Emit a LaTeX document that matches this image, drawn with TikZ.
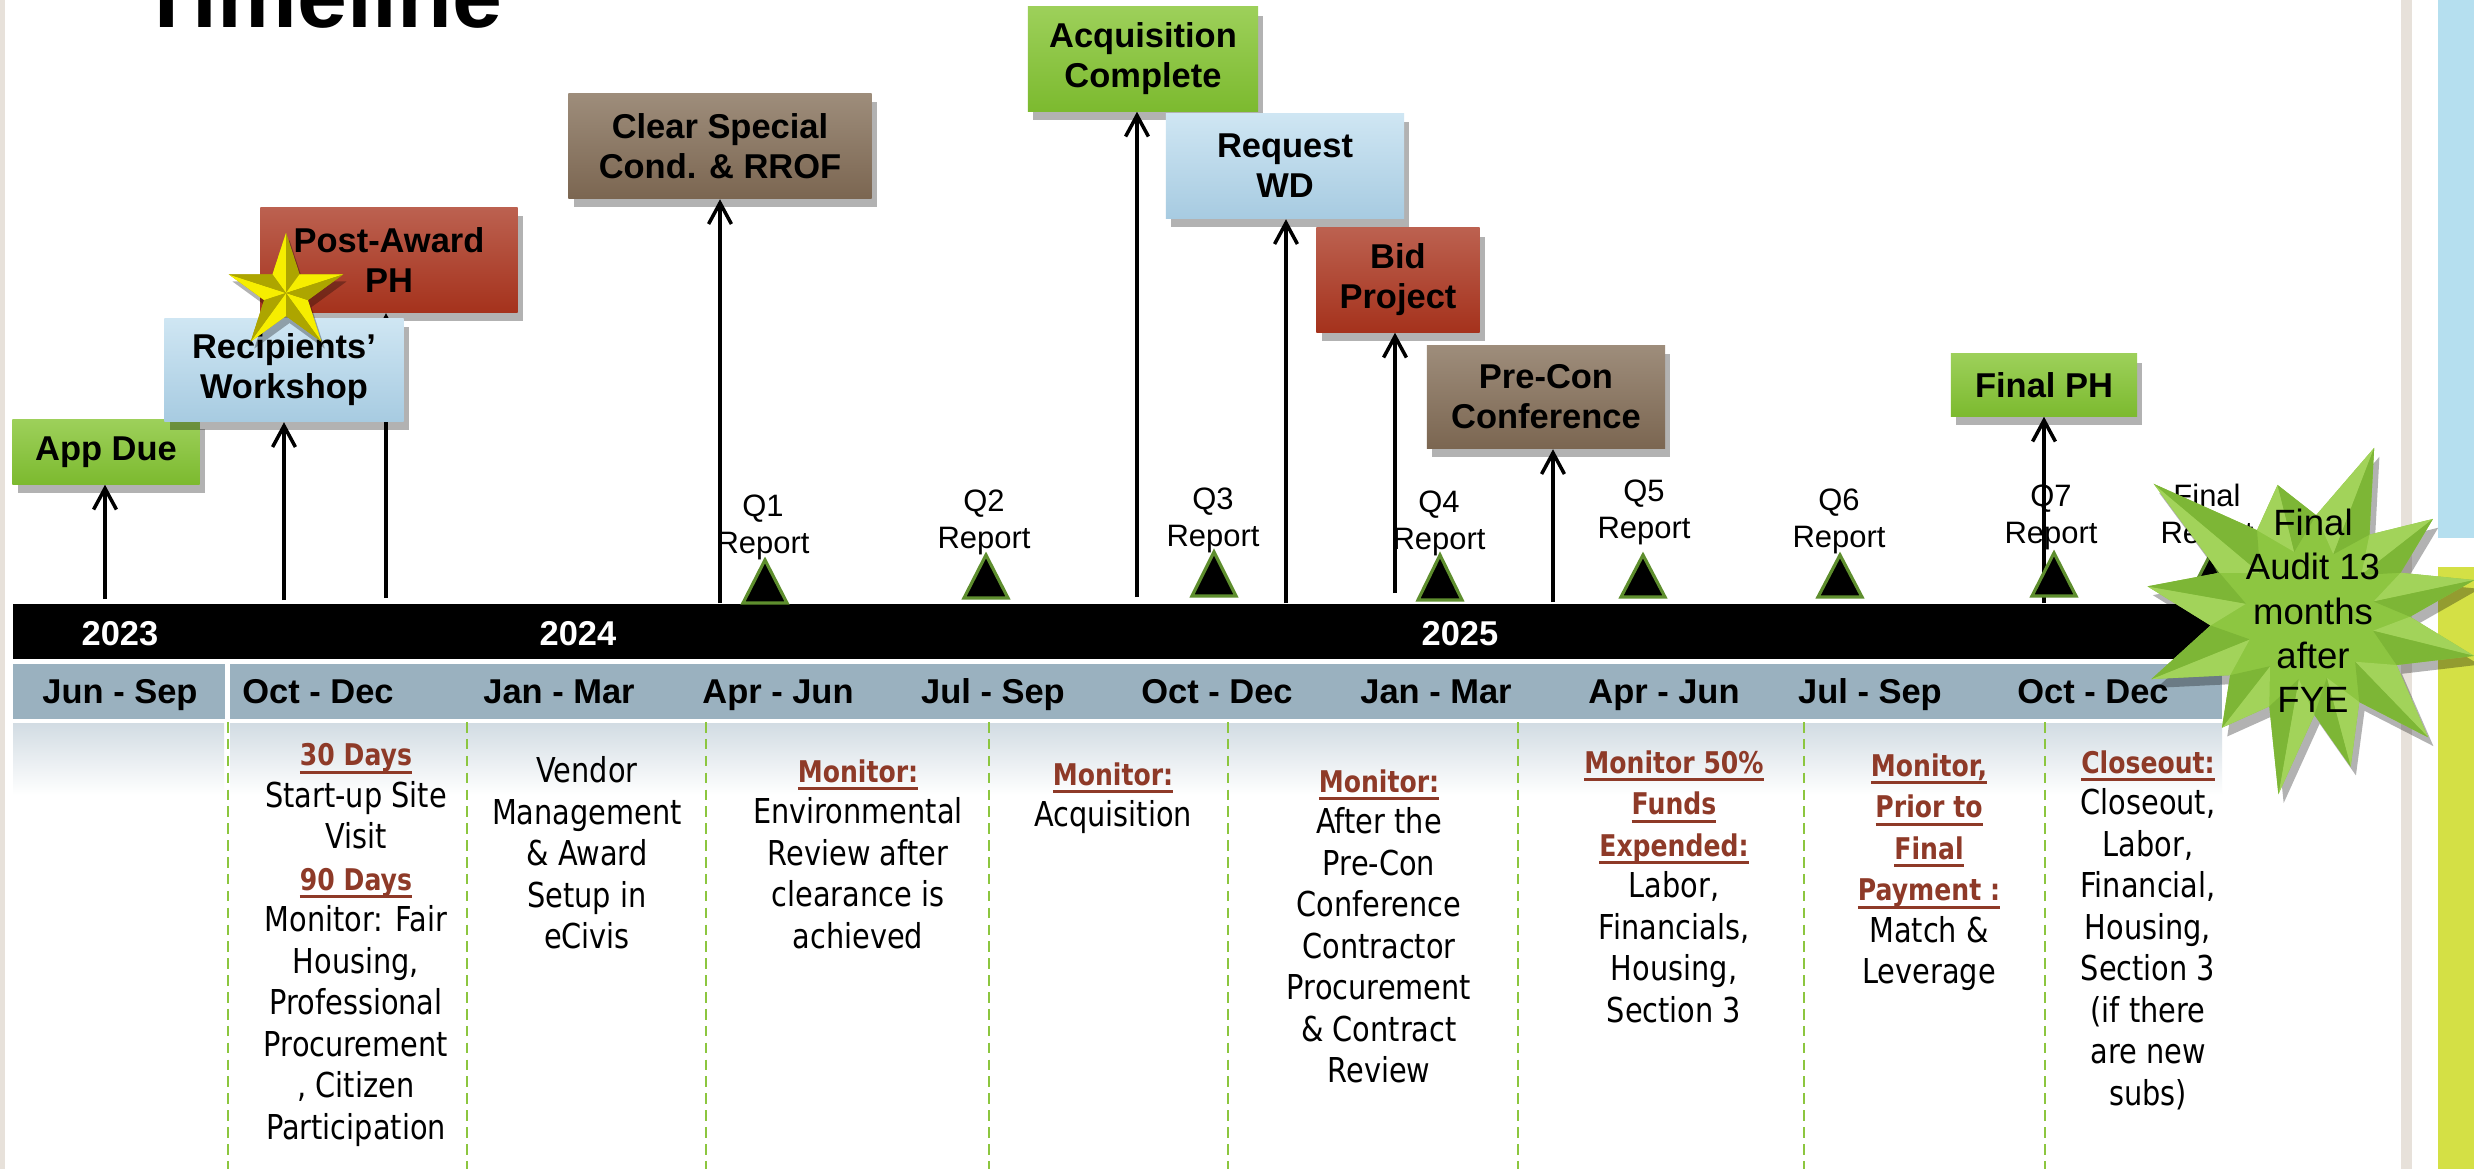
\documentclass[tikz,border=0pt]{standalone}
\usepackage{fontspec}
\usepackage{tikz}
\usetikzlibrary{arrows.meta,shadows,calc}
\setmainfont{Liberation Sans}
\newfontfamily\bodyfont{DejaVu Sans}[FakeStretch=0.84]
\definecolor{greentop}{HTML}{9DD05A}
\definecolor{greenbot}{HTML}{7CBA2F}
\definecolor{bluetop}{HTML}{CFE6F3}
\definecolor{bluebot}{HTML}{A7CBE1}
\definecolor{redtop}{HTML}{BC6150}
\definecolor{redbot}{HTML}{A5321C}
\definecolor{browntop}{HTML}{9E8D7B}
\definecolor{brownbot}{HTML}{7B6651}
\definecolor{monthbar}{HTML}{9AB1BF}
\definecolor{fadetop}{HTML}{D2DCE3}
\definecolor{headred}{HTML}{8E3A28}
\definecolor{sepgreen}{HTML}{8CC63F}
\definecolor{triline}{HTML}{5E8E2E}
\definecolor{starbase}{HTML}{8DC641}
\definecolor{starlit}{HTML}{A2D35A}
\definecolor{starshade}{HTML}{7DB636}
\definecolor{goldlit}{HTML}{F6EE00}
\definecolor{goldshade}{HTML}{ADA500}
\definecolor{slidebeige}{HTML}{E7E1DA}
\definecolor{panelblue}{HTML}{B5DFEF}
\definecolor{panelyellow}{HTML}{D4E045}
\pgfdeclarelayer{backdrop}
\pgfdeclarelayer{links}
\pgfsetlayers{backdrop,links,main}
\newcommand{\colhead}[1]{{\fontsize{8.5}{11.8}\selectfont\bfseries\color{headred}%
  \setbox0\hbox{#1}\rlap{\rule[-2.2pt]{\wd0}{0.8pt}}\box0}}
\tikzset{
  evbox/.style={inner sep=0pt, align=center, font=\fontsize{9.8}{11.4}\selectfont\bfseries,
    drop shadow={shadow xshift=1.5pt, shadow yshift=-2.5pt, opacity=0.3, fill=black}},
  greenbox/.style={evbox, top color=greentop, bottom color=greenbot},
  bluebox/.style={evbox, top color=bluetop, bottom color=bluebot},
  redbox/.style={evbox, top color=redtop, bottom color=redbot},
  brownbox/.style={evbox, top color=browntop, bottom color=brownbot},
  evarrow/.style={draw=black, line width=1pt, -{Straight Barb[length=6pt,width=6.5pt]}},
  qlab/.style={align=center, inner sep=0pt, font=\fontsize{8.8}{10.5}\selectfont},
  tri/.style={fill=black, draw=triline, line width=0.9pt},
  monthlab/.style={anchor=base, inner sep=0pt, font=\fontsize{9.8}{12}\selectfont\bfseries},
  yearlab/.style={monthlab, text=white},
  coltext/.style={anchor=north, align=center, inner sep=0pt, font=\bodyfont\fontsize{9.75}{11.8}\selectfont},
  sepline/.style={draw=sepgreen, line width=0.7pt, dash pattern=on 3pt off 1.8pt},
}

\begin{document}
\begin{tikzpicture}[x=0.01cm, y=-0.01cm]
  \useasboundingbox (0,0) rectangle (2474,1169);
  % slide background and side panels
  \begin{pgfonlayer}{backdrop}
    \fill[white] (0,0) rectangle (2474,1169);
    \fill[slidebeige] (0,0) rectangle (5,1169);
    \fill[slidebeige] (2401,0) rectangle (2412,1169);
    \fill[panelblue] (2438,0) rectangle (2474,538);
    \fill[panelyellow] (2438,567) rectangle (2474,1169);
  \end{pgfonlayer}
  \node[anchor=base west, inner sep=0pt, font=\fontsize{25.5}{30}\selectfont\bfseries] (title) at (139,27) {Timeline};

  % year bar
  \fill[black] (13,604) rectangle (2260,659);
  \node[yearlab] (y2023) at (120,645) {2023};
  \node[yearlab] (y2024) at (578,645) {2024};
  \node[yearlab] (y2025) at (1460,645) {2025};

  % quarter bar
  \fill[monthbar] (13,664) rectangle (225,719);
  \fill[monthbar] (230,664) rectangle (2222,719);
  \foreach \x/\txt [count=\i] in {120/Jun - Sep, 318/Oct - Dec, 559/Jan - Mar, 778/Apr - Jun,
      993/Jul - Sep, 1217/Oct - Dec, 1436/Jan - Mar, 1664/Apr - Jun, 1870/Jul - Sep, 2093/Oct - Dec}
    \node[monthlab] (month\i) at (\x,703) {\txt};

  % monitoring columns
  \shade[top color=fadetop, bottom color=white] (13,723) rectangle (224,795);
  \shade[top color=fadetop, bottom color=white] (230,723) rectangle (2222,795);
  \foreach \x in {228,467,706,989,1228,1518,1804,2045}
    \draw[sepline] (\x,722) -- (\x,1169);
  \node[coltext] (coloct23) at (356,743) {\colhead{30 Days}\\Start-up Site\\Visit\\\colhead{90 Days}\\Monitor: Fair\\Housing,\\Professional\\Procurement\\, Citizen\\Participation};
  \node[coltext] (coljan24) at (587,756) {Vendor\\Management\\\& Award\\Setup in\\eCivis};
  \node[coltext] (colapr24) at (858,759) {\colhead{Monitor:}\\Environmental\\Review after\\clearance is\\achieved};
  \node[coltext] (coljul24) at (1113,762) {\colhead{Monitor:}\\Acquisition};
  \node[coltext] (coloct24) at (1379,769) {\colhead{Monitor:}\\After the\\Pre-Con\\Conference\\Contractor\\Procurement\\\& Contract\\Review};
  \node[coltext] (coljan25) at (1674,750) {\colhead{Monitor 50\%}\\\colhead{Funds}\\\colhead{Expended:}\\Labor,\\Financials,\\Housing,\\Section 3};
  \node[coltext] (coljul25) at (1929,753) {\colhead{Monitor,}\\\colhead{Prior to}\\\colhead{Final}\\\colhead{Payment :}\\Match \&\\Leverage};
  \node[coltext] (coloct25) at (2148,750) {\colhead{Closeout:}\\Closeout,\\Labor,\\Financial,\\Housing,\\Section 3\\(if there\\are new\\subs)};

  % quarterly reports
  \node[qlab] (q1) at (763,527) {Q1\\Report};
  \node[qlab] (q2) at (984,522) {Q2\\Report};
  \node[qlab] (q3) at (1213,520) {Q3\\Report};
  \node[qlab] (q4) at (1439,523) {Q4\\Report};
  \node[qlab] (q5) at (1644,512) {Q5\\Report};
  \node[qlab] (q6) at (1839,521) {Q6\\Report};
  \node[qlab] (q7) at (2051,517) {Q7\\Report};
  \node[qlab] (qfinal) at (2207,517) {Final\\Report};
  \foreach \x/\yt/\yb in {765/560/603, 986/555/598, 1214/552/596, 1440/555/600,
      1643/555/597, 1840/555/597, 2054/553/596, 2210/555/598}
    \draw[tri] (\x-22,\yb) -- (\x,\yt) -- (\x+22,\yb) -- cycle;

  % milestones
  \node[greenbox, minimum width=1.87cm, minimum height=0.64cm] (appdue) at (106,452) {App Due};
  \node[redbox, minimum width=2.57cm, minimum height=1.05cm] (postaward) at (389,260) {Post-Award\\PH};
  \node[bluebox, minimum width=2.39cm, minimum height=1.03cm] (workshop) at (284,370) {Recipients’\\Workshop};
  \node[brownbox, minimum width=3.03cm, minimum height=1.05cm] (clearcond) at (720,146) {Clear Special\\Cond. \& RROF};
  \node[greenbox, minimum width=2.30cm, minimum height=1.04cm] (acqdone) at (1143,59) {Acquisition\\Complete};
  \node[bluebox, minimum width=2.38cm, minimum height=1.05cm] (requestwd) at (1285,166) {Request\\WD};
  \node[redbox, minimum width=1.63cm, minimum height=1.04cm] (bidproject) at (1398,280) {Bid\\Project};
  \node[brownbox, minimum width=2.38cm, minimum height=1.03cm] (precon) at (1546,397) {Pre-Con\\Conference};
  \node[greenbox, minimum width=1.86cm, minimum height=0.62cm] (finalph) at (2044,385) {Final PH};

  % arrows from the year bar up to each milestone
  \coordinate (appdue-foot) at (105,599);
  \coordinate (workshop-foot) at (284,600);
  \coordinate (postaward-foot) at (386,598);
  \coordinate (clearcond-foot) at (720,603);
  \coordinate (acqdone-foot) at (1137,597);
  \coordinate (requestwd-foot) at (1286,603);
  \coordinate (bidproject-foot) at (1395,593);
  \coordinate (precon-foot) at (1553,602);
  \coordinate (finalph-foot) at (2044,603);
  \begin{pgfonlayer}{links}
    \foreach \ev in {appdue,workshop,postaward,clearcond,acqdone,requestwd,bidproject,precon,finalph}
      \draw[evarrow] (\ev-foot) -- (\ev-foot |- \ev.south);
  \end{pgfonlayer}

  % gold star on the workshop
  \begin{scope}[shift={(286,293)}, yscale=-1]
    \fill[goldshade, drop shadow={shadow xshift=1pt, shadow yshift=-2pt, opacity=0.3, fill=black}]
      (90:60) -- (126:23) -- (162:60) -- (198:23) -- (234:60) -- (270:23) -- (306:60) -- (342:23) -- (18:60) -- (54:23) -- cycle;
    \foreach \ang in {90,162,234,306,378} {
      \fill[goldlit] (0,0) -- ({\ang+36}:23) -- (\ang:60) -- cycle;
      \fill[goldshade] (0,0) -- (\ang:60) -- ({\ang-36}:23) -- cycle;
    }
  \end{scope}

  % final audit burst
  \begin{scope}[shift={(2310,615)}, yscale=-1]
    \fill[starbase, drop shadow={shadow xshift=1.5pt, shadow yshift=-2.5pt, opacity=0.3, fill=black}]
      (86.5:100) \foreach \ang/\rad in {69/179,53.5/100,38/156,25/100,12/168,-1/100,-14/169,-30/100,
        -46/170,-60.5/100,-75/157,-87.5/100,-100/182,-114/100,-128/143,-143/100,-158/171,-174/100,
        170/165,155/100,140/204,122/100,104/134} { -- (\ang:\rad) } -- cycle;
    \foreach \ang/\rad/\pre/\nxt in {69/179/86.5/53.5, 38/156/53.5/25, 12/168/25/-1, -14/169/-1/-30,
        -46/170/-30/-60.5, -75/157/-60.5/-87.5, -100/182/-87.5/-114, -128/143/-114/-143,
        -158/171/-143/-174, 170/165/186/155, 140/204/155/122, 104/134/122/86.5} {
      \fill[starlit] (\pre:100) -- (\ang:\rad) -- (\ang:65) -- cycle;
      \fill[starshade] (\ang:\rad) -- (\nxt:100) -- (\ang:65) -- cycle;
    }
  \end{scope}
  \node[align=center, inner sep=0pt, font=\fontsize{10.4}{12.6}\selectfont] (finalaudit) at (2313,611) {Final\\Audit 13\\months\\after\\FYE};
\end{tikzpicture}
\end{document}
